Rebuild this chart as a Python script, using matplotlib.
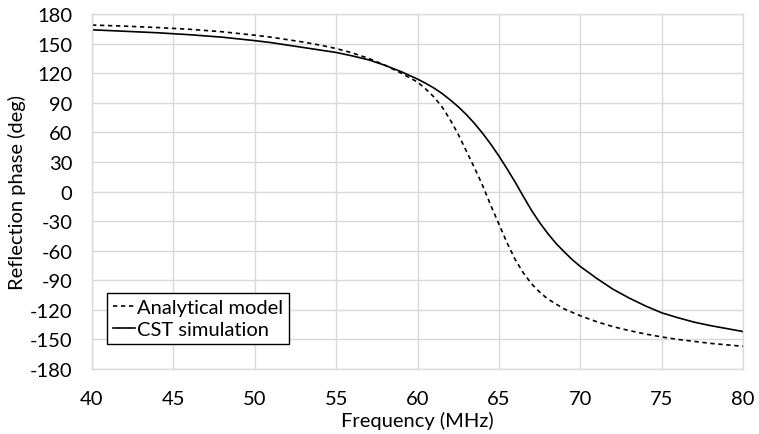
import matplotlib
matplotlib.use("Agg")
import matplotlib.pyplot as plt

# Values (frequency in MHz, phase in deg)
freq_model = [40, 42, 44, 46, 48, 50, 51, 52, 53, 54, 55, 56, 57, 58, 59, 60, 60.5, 61,
              61.5, 62, 62.5, 63, 63.5, 64, 64.5, 65, 65.5, 66, 66.5, 67, 67.5, 68, 69,
              70, 71, 72, 73, 74, 75, 76, 77, 78, 79, 80]
phase_model = [168.8, 167.7, 166.3, 164.5, 162, 158.5, 156.5, 154, 151.5, 148.5, 145,
               140.5, 135, 128, 120, 111, 104, 96, 86, 73, 58, 41, 24, 6, -14, -33, -52,
               -69, -82.5, -93.5, -102, -109, -119, -126, -132, -137, -141, -144.5,
               -147.5, -150, -152, -154, -155.5, -157]

freq_cst = [40, 42, 44, 46, 48, 50, 51, 52, 53, 54, 55, 56, 57, 58, 59, 60, 60.5, 61,
            61.5, 62, 62.5, 63, 63.5, 64, 64.5, 65, 65.5, 66, 66.5, 67, 67.5, 68, 68.5,
            69, 69.5, 70, 71, 72, 73, 74, 75, 76, 77, 78, 79, 80]
phase_cst = [164, 162.5, 161, 159, 156.5, 153, 151, 148.5, 146, 143.5, 141, 137.5,
             133.5, 128, 121.5, 114, 109.8, 105, 99.5, 93, 86, 78, 69, 59, 48, 36, 23,
             9.5, -5, -19, -31.5, -42.5, -52.5, -61, -69, -76, -88, -99, -108, -116,
             -123, -128, -132.5, -136, -139, -142]

x_ticks = list(range(40, 81, 5))
y_ticks = list(range(-180, 181, 30))

plt.rcParams['font.family'] = ['Lato', 'DejaVu Sans']
plt.rcParams['axes.unicode_minus'] = False

fig = plt.figure(figsize=(7.59, 4.35), dpi=100)
ax = fig.add_axes([0.1212, 0.1494, 0.8578, 0.8161])

ax.plot(freq_model, phase_model, color="black", lw=1.2, dashes=(2.6, 2.2),
        label="Analytical model")
ax.plot(freq_cst, phase_cst, color="black", lw=1.2, label="CST simulation")

ax.set_xlim(40, 80)
ax.set_ylim(-180, 180)
ax.set_xticks(x_ticks)
ax.set_yticks(y_ticks)
ax.grid(True, color="#d9d9d9", lw=1)
ax.set_axisbelow(True)
for s in ax.spines.values():
    s.set_color("#d9d9d9")
    s.set_linewidth(1)
ax.tick_params(length=0, labelsize=14.5)
ax.tick_params(axis="x", pad=15)
ax.tick_params(axis="y", pad=14)

ax.set_xlabel("Frequency (MHz)", fontsize=14.5, labelpad=3)
ax.set_ylabel("Reflection phase (deg)", fontsize=14.5, labelpad=3)

leg = ax.legend(loc="lower left", bbox_to_anchor=(0.023, 0.07), fontsize=14.5,
                handlelength=1.1, handletextpad=0.1, borderpad=0.3,
                labelspacing=0.25, fancybox=False, framealpha=1, borderaxespad=0)
leg.get_frame().set_edgecolor("black")
leg.get_frame().set_linewidth(1)

fig.savefig("out.png", dpi=100)
